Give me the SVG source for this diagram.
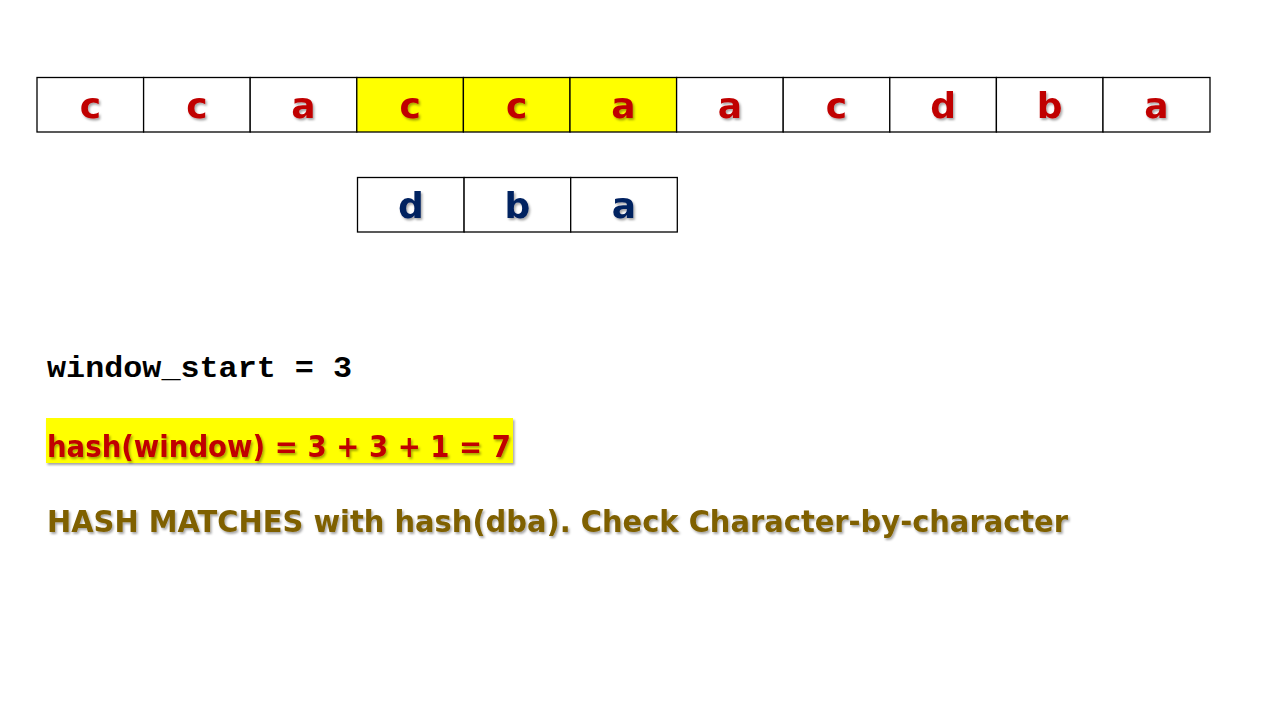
<svg xmlns="http://www.w3.org/2000/svg" width="1280" height="720" viewBox="0 0 1280 720">
<defs>
<filter id="sh" x="-10%" y="-20%" width="120%" height="140%">
<feDropShadow dx="1.5" dy="2" stdDeviation="0.8" flood-color="#000" flood-opacity="0.35"/>
</filter>
</defs>
<style>
.cell{fill:#fff;stroke:#000;stroke-width:1.3}
.hl{fill:#ffff00}
.ch{font-family:"DejaVu Sans","Noto Sans",sans-serif;font-weight:bold;font-size:36px;text-anchor:middle;filter:url(#sh)}
.red{fill:#c00000}
.blue{fill:#002060}
.mono{font-family:"Liberation Mono","Courier New",monospace;font-weight:bold;font-size:30px;fill:#000}
.txt{font-family:"DejaVu Sans","Noto Sans",sans-serif;font-weight:bold;font-size:31px;filter:url(#sh)}
</style>
<rect width="1280" height="720" fill="#fff"/>
<g id="text-row">
<g id="t0"><rect class="cell" x="37" y="77.5" width="106.6" height="54.5"/><text class="ch red" x="90.3" y="118">c</text></g>
<g id="t1"><rect class="cell" x="143.6" y="77.5" width="106.6" height="54.5"/><text class="ch red" x="196.9" y="118">c</text></g>
<g id="t2"><rect class="cell" x="250.2" y="77.5" width="106.6" height="54.5"/><text class="ch red" x="303.5" y="118">a</text></g>
<g id="t3"><rect class="cell hl" x="356.8" y="77.5" width="106.6" height="54.5"/><text class="ch red" x="410.1" y="118">c</text></g>
<g id="t4"><rect class="cell hl" x="463.4" y="77.5" width="106.6" height="54.5"/><text class="ch red" x="516.7" y="118">c</text></g>
<g id="t5"><rect class="cell hl" x="570" y="77.5" width="106.6" height="54.5"/><text class="ch red" x="623.3" y="118">a</text></g>
<g id="t6"><rect class="cell" x="676.6" y="77.5" width="106.6" height="54.5"/><text class="ch red" x="729.9" y="118">a</text></g>
<g id="t7"><rect class="cell" x="783.2" y="77.5" width="106.6" height="54.5"/><text class="ch red" x="836.5" y="118">c</text></g>
<g id="t8"><rect class="cell" x="889.8" y="77.5" width="106.6" height="54.5"/><text class="ch red" x="943.1" y="118">d</text></g>
<g id="t9"><rect class="cell" x="996.4" y="77.5" width="106.6" height="54.5"/><text class="ch red" x="1049.7" y="118">b</text></g>
<g id="t10"><rect class="cell" x="1103" y="77.5" width="107" height="54.5"/><text class="ch red" x="1156.5" y="118">a</text></g>
</g>
<g id="pattern-row">
<g id="p0"><rect class="cell" x="357.5" y="177.5" width="106.6" height="54.5"/><text class="ch blue" x="410.8" y="218">d</text></g>
<g id="p1"><rect class="cell" x="464.1" y="177.5" width="106.6" height="54.5"/><text class="ch blue" x="517.4" y="218">b</text></g>
<g id="p2"><rect class="cell" x="570.7" y="177.5" width="106.6" height="54.5"/><text class="ch blue" x="624" y="218">a</text></g>
</g>
<g id="connectors"></g>
<g id="labels">
<text class="mono" x="47" y="377" textLength="305" lengthAdjust="spacingAndGlyphs" xml:space="preserve">window_start = 3</text>
<rect x="46" y="418" width="467" height="45" fill="#ffff00" filter="url(#sh)"/>
<text class="txt red" x="47" y="457" textLength="464" lengthAdjust="spacingAndGlyphs">hash(window) = 3 + 3 + 1 = 7</text>
<text class="txt" x="47" y="532" fill="#7f6000" textLength="1021" lengthAdjust="spacingAndGlyphs">HASH MATCHES with hash(dba). Check Character-by-character</text>
</g>
</svg>
